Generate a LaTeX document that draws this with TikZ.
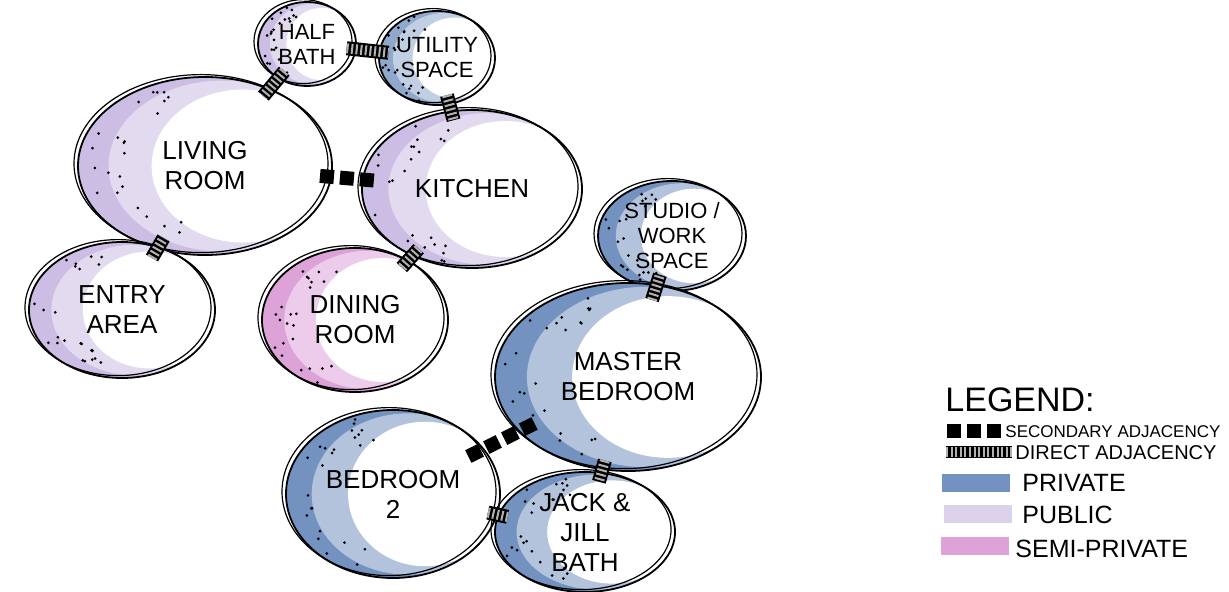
\documentclass[tikz,border=0pt]{standalone}
\usepackage{fontspec}
\setmainfont{Liberation Sans}
\usetikzlibrary{shapes.geometric, calc}

\definecolor{private}{HTML}{7392BF}
\definecolor{public}{HTML}{CBBDE3}
\definecolor{semipriv}{HTML}{DDA3D9}

\begin{document}
\begin{tikzpicture}[x=0.5pt, y=-0.5pt,
    room/.style 2 args={ellipse, draw, line width=0.9pt, inner sep=0pt, align=center,
      minimum width=#1pt, minimum height=#2pt, font=\fontsize{13}{15}\selectfont,
      path picture={
        \fill[white, opacity=0.45] ([shift={(0.14*#1,0)}]path picture bounding box.center)
          ellipse [x radius=0.9*#1, y radius=0.96*#2];
        \fill[white] ([shift={(0.3*#1,0)}]path picture bounding box.center)
          ellipse [x radius=0.72*#1, y radius=0.86*#2];},
      postaction={draw, line width=0.6pt, transform canvas={xshift=-2pt, yshift=1.2pt}}},
    small/.style={font=\fontsize{11}{12.5}\selectfont},
    direct/.style={line width=7pt, shorten <=-5pt, shorten >=-5pt,
      postaction={draw=gray!60, line width=5pt, dash pattern=on 1pt off 1.3pt}},
    secondary/.style={line width=7pt, dash pattern=on 7pt off 3pt},
    swatch/.style={minimum width=34pt, minimum height=9pt, inner sep=0pt},
    key/.style={anchor=west, inner sep=0pt, font=\fontsize{12.5}{14}\selectfont}]
  \useasboundingbox (0,0) rectangle (1229,592);

  % rooms
  \node[room={49}{42}, small, fill=public] (half) at (307,44) {HALF\\BATH};
  \node[room={58}{47}, small, fill=private!80] (utility) at (437,58) {UTILITY\\SPACE};
  \node[room={127}{89}, fill=public] (living) at (205,166) {LIVING\\ROOM};
  \node[room={110}{79}, fill=public] (kitchen) at (472,189) {KITCHEN};
  \node[room={93}{68}, fill=public] (entry) at (122,310) {ENTRY\\AREA};
  \node[room={93}{72}, fill=semipriv] (dining) at (355,320) {DINING\\ROOM};
  \node[room={74}{55}, small, fill=private] (studio) at (672,236) {STUDIO /\\WORK\\SPACE};
  \node[room={133}{94}, fill=private] (master) at (628,377) {MASTER\\BEDROOM};
  \node[room={107}{84}, fill=private] (bedroom) at (393,494) {BEDROOM\\2};
  \node[room={90}{60}, fill=private] (jack) at (585,532) {JACK \&\\JILL\\BATH};

  % stipple dots
  \pgfmathsetseed{42}
  \foreach \n in {half,utility,living,kitchen,entry,dining,studio,master,bedroom,jack}
    \foreach \k in {1,...,24} {
      \pgfmathtruncatemacro\ang{110+140*rnd}
      \pgfmathsetmacro\fr{0.62+0.33*rnd}
      \fill ($(\n.center)!\fr!(\n.\ang)$) circle (1.5);
    }

  % adjacencies
  \draw[direct] (half) -- (utility);
  \draw[direct] (half) -- (living);
  \draw[direct] (utility) -- (kitchen);
  \draw[direct] (living) -- (entry);
  \draw[direct] (kitchen) -- (dining);
  \draw[direct] (studio) -- (master);
  \draw[direct] (master) -- (jack);
  \draw[direct] (bedroom) -- (jack);
  \draw[secondary, shorten <=-6pt, shorten >=-6pt] (living) -- (kitchen);
  \draw[secondary, shorten <=-9pt, shorten >=-9pt] (master) -- (bedroom);

  % legend
  \node[anchor=west, inner sep=0pt, font=\fontsize{17}{20}\selectfont] (legend) at (945,400) {LEGEND:};
  \coordinate (sec l) at (947,431);
  \coordinate (sec r) at (1002,431);
  \draw[secondary] (sec l) -- (sec r);
  \node[key, font=\fontsize{8.5}{10}\selectfont] (sec txt) at (1005,432) {SECONDARY ADJACENCY};
  \coordinate (dir l) at (946,452);
  \coordinate (dir r) at (1012,452);
  \draw[direct, line width=6pt, shorten <=0pt, shorten >=0pt] (dir l) -- (dir r);
  \node[key, font=\fontsize{10}{12}\selectfont] (dir txt) at (1015,453) {DIRECT ADJACENCY};
  \node[swatch, fill=private] (sw private) at (976,483) {};
  \node[key] (private txt) at (1022,483) {PRIVATE};
  \node[swatch, fill=public!70] (sw public) at (978,514) {};
  \node[key] (public txt) at (1022,515) {PUBLIC};
  \node[swatch, fill=semipriv] (sw semi) at (975,546) {};
  \node[key] (semi txt) at (1015,549) {SEMI-PRIVATE};
\end{tikzpicture}
\end{document}
